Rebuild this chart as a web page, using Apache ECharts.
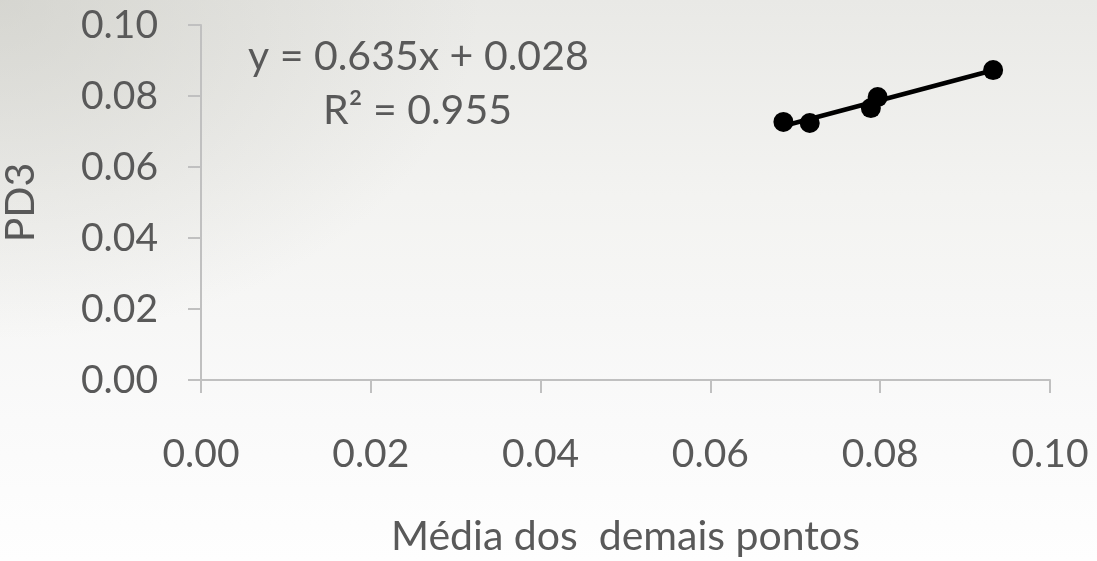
<!DOCTYPE html>
<html>
<head>
<meta charset="utf-8">
<script src="https://cdn.jsdelivr.net/npm/echarts@6/dist/echarts.min.js"></script>
<style>
  html, body { margin: 0; padding: 0; }
  body {
    width: 1097px; height: 561px; overflow: hidden;
    background:
      radial-gradient(ellipse 480px 340px at 0% 0%, rgba(190,190,182,0.45), rgba(190,190,182,0) 100%),
      linear-gradient(to bottom, #e9e9e6 0%, #f3f3f1 35%, #fafafa 75%, #fefefe 100%);
  }
  #chart { width: 1097px; height: 561px; }
</style>
</head>
<body>
<div id="chart"></div>
<script>
// Observations: mean of the other points (x) vs PD3 (y)
const xValues = [0.0686, 0.0717, 0.0789, 0.0797, 0.0933];
const yValues = [0.0727, 0.0724, 0.0766, 0.0797, 0.0873];

// Linear fit reported on the chart
const slope = 0.635;
const intercept = 0.028;
const rSquared = 0.955;

const xTitle = 'Média dos  demais pontos';
const yTitle = 'PD3';

const points = xValues.map((x, i) => [x, yValues[i]]);
const xMin = Math.min(...xValues);
const xMax = Math.max(...xValues);
const fitLine = [[xMin, slope * xMin + intercept], [xMax, slope * xMax + intercept]];

const textColor = '#595959';
const axisColor = '#c0c0c0';
const font = 'Lato, "Open Sans", sans-serif';
const tickFont = 39;
const titleFont = 41;

const chart = echarts.init(document.getElementById('chart'), null, { renderer: 'canvas' });
chart.setOption({
  backgroundColor: 'transparent',
  animation: false,
  textStyle: { fontFamily: font },
  grid: { left: 201, right: 47, top: 25, bottom: 181, containLabel: false, outerBoundsMode: 'none' },
  xAxis: {
    type: 'value', min: 0, max: 0.1, interval: 0.02,
    name: xTitle, nameLocation: 'middle', nameGap: 136,
    nameTextStyle: { color: textColor, fontSize: titleFont, fontFamily: font },
    axisLine: { show: true, onZero: false, lineStyle: { color: axisColor, width: 2 } },
    axisTick: { show: true, length: 13, inside: false, lineStyle: { color: axisColor, width: 2 } },
    axisLabel: { color: textColor, fontSize: tickFont, margin: 55, fontFamily: font,
                 formatter: v => v.toFixed(2) },
    splitLine: { show: false }
  },
  yAxis: {
    type: 'value', min: 0, max: 0.1, interval: 0.02,
    name: yTitle, nameLocation: 'middle', nameGap: 160, nameRotate: 90,
    nameTextStyle: { color: textColor, fontSize: titleFont, fontFamily: font },
    axisLine: { show: true, onZero: false, lineStyle: { color: axisColor, width: 2 } },
    axisTick: { show: true, length: 13, lineStyle: { color: axisColor, width: 2 } },
    axisLabel: { color: textColor, fontSize: tickFont, margin: 43, fontFamily: font,
                 formatter: v => v.toFixed(2) },
    splitLine: { show: false }
  },
  graphic: [
    { type: 'text', x: 248, y: 57,
      style: { text: 'y = ' + slope.toFixed(3) + 'x + ' + intercept.toFixed(3),
               fill: textColor, font: titleFont + 'px ' + font,
               textAlign: 'left', textVerticalAlign: 'middle' } },
    { type: 'text', x: 323, y: 111,
      style: { text: 'R² = ' + rSquared.toFixed(3), fill: textColor,
               font: titleFont + 'px ' + font,
               textAlign: 'left', textVerticalAlign: 'middle' } }
  ],
  series: [
    {
      type: 'line', data: fitLine, symbol: 'none',
      lineStyle: { color: '#000', width: 4.5 }, z: 2
    },
    {
      type: 'scatter', data: points, symbol: 'circle', symbolSize: 20,
      itemStyle: { color: '#000', opacity: 1 }, z: 3
    }
  ]
});
</script>
</body>
</html>
